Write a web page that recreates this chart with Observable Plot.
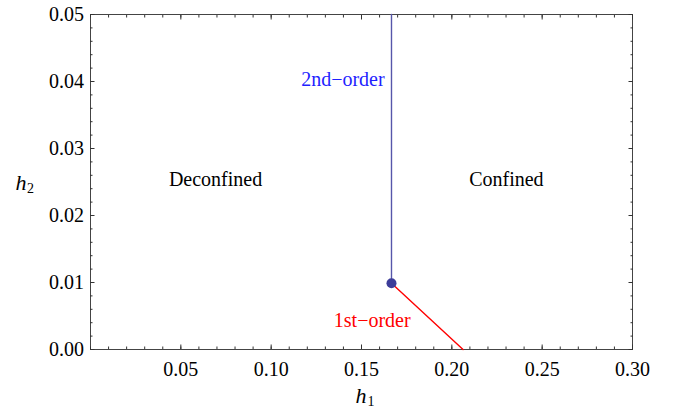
<!DOCTYPE html>
<html><head><meta charset="utf-8">
<script src="https://cdn.jsdelivr.net/npm/d3@7"></script>
<script src="https://cdn.jsdelivr.net/npm/@observablehq/plot@0.6"></script>
<style>
body{margin:0;background:#fff}
svg{display:block}
svg, svg text, svg g { font-family: "Liberation Serif", "DejaVu Serif", serif !important; }
</style>
</head><body><div id="chart"></div>
<script>
// Phase boundaries (h1, h2)
const secondOrderH1 = [0.1666, 0.1666];
const secondOrderH2 = [0.0099, 0.05];
const firstOrderH1 = [0.1666, 0.2062];
const firstOrderH2 = [0.0099, 0.0];
const criticalPoint = [{h1: 0.1666, h2: 0.0099}];

// Tick values / labels
const xTicks = [0.05, 0.10, 0.15, 0.20, 0.25, 0.30];
const yTicks = [0.00, 0.01, 0.02, 0.03, 0.04, 0.05];
const xMinor = d3.range(0, 31).map(i => i / 100);
const yMinor = d3.range(0, 26).map(i => i * 0.002);

// Annotations
const regionLabels = [
  {text: "Deconfined", h1: 0.0692, h2: 0.0254},
  {text: "Confined", h1: 0.2302, h2: 0.0254}
];
const orderLabels = [
  {text: "2nd\u2212order", h1: 0.1628, h2: 0.0403, color: "#1f1fff"},
  {text: "1st\u2212order", h1: 0.1772, h2: 0.00435, color: "#ff0000"}
];

const secondOrder = secondOrderH1.map((v, i) => ({h1: v, h2: secondOrderH2[i]}));
const firstOrder = firstOrderH1.map((v, i) => ({h1: v, h2: firstOrderH2[i]}));

const serif = "Liberation Serif";
const fmt = d3.format(".2f");
const blank = () => "";
const tickColor = "#333";

const tickAxes = [];
for (const [anchor, ticks, size] of [["bottom", xMinor, -2.5], ["bottom", xTicks, -4.5], ["top", xMinor, -2.5], ["top", xTicks, -4.5]]) {
  tickAxes.push(Plot.axisX({anchor, ticks, tickSize: size, tickFormat: blank, label: null, stroke: tickColor}));
}
for (const [anchor, ticks, size] of [["left", yMinor, -2.5], ["left", yTicks, -4.5], ["right", yMinor, -2.5], ["right", yTicks, -4.5]]) {
  tickAxes.push(Plot.axisY({anchor, ticks, tickSize: size, tickFormat: blank, label: null, stroke: tickColor}));
}

const plot = Plot.plot({
  width: 678,
  height: 412,
  marginLeft: 90,
  marginRight: 46,
  marginTop: 14,
  marginBottom: 63,
  style: {fontFamily: serif, fontSize: "20px", background: "#fff", color: "#000"},
  x: {domain: [0, 0.3]},
  y: {domain: [0, 0.05]},
  marks: [
    Plot.frame({stroke: "#444"}),
    ...tickAxes,
    Plot.axisX({anchor: "bottom", ticks: xTicks, tickSize: 0, tickPadding: 12, tickFormat: fmt, label: null, fontSize: 20, fontFamily: serif}),
    Plot.axisY({anchor: "left", ticks: yTicks, tickSize: 0, tickPadding: 6.5, tickFormat: fmt, label: null, fontSize: 20, fontFamily: serif}),
    Plot.line(secondOrder, {x: "h1", y: "h2", stroke: "#5656aa", strokeWidth: 1.4}),
    Plot.line(firstOrder, {x: "h1", y: "h2", stroke: "#ff0000", strokeWidth: 1.4}),
    Plot.dot(criticalPoint, {x: "h1", y: "h2", r: 5, fill: "#3d3d99", stroke: "none"}),
    Plot.text(regionLabels, {x: "h1", y: "h2", text: "text", fontSize: 20, fill: "#000", fontFamily: serif}),
    Plot.text(orderLabels, {x: "h1", y: "h2", text: "text", fontSize: 20, fill: "color", textAnchor: "end", fontFamily: serif}),
    // axis titles
    Plot.text(["h"], {frameAnchor: "bottom", text: d => d, fontStyle: "italic", fontSize: 22, textAnchor: "end", lineAnchor: "bottom", dx: 5, dy: 53, fontFamily: serif}),
    Plot.text(["1"], {frameAnchor: "bottom", text: d => d, fontSize: 14, textAnchor: "start", lineAnchor: "bottom", dx: 6, dy: 56, fontFamily: serif}),
    Plot.text(["h"], {frameAnchor: "left", text: d => d, fontStyle: "italic", fontSize: 22, textAnchor: "end", lineAnchor: "bottom", dx: -64, dy: 7.5, fontFamily: serif}),
    Plot.text(["2"], {frameAnchor: "left", text: d => d, fontSize: 14, textAnchor: "start", lineAnchor: "bottom", dx: -63.5, dy: 11, fontFamily: serif})
  ]
});
document.getElementById("chart").appendChild(plot);
</script>
</body></html>
